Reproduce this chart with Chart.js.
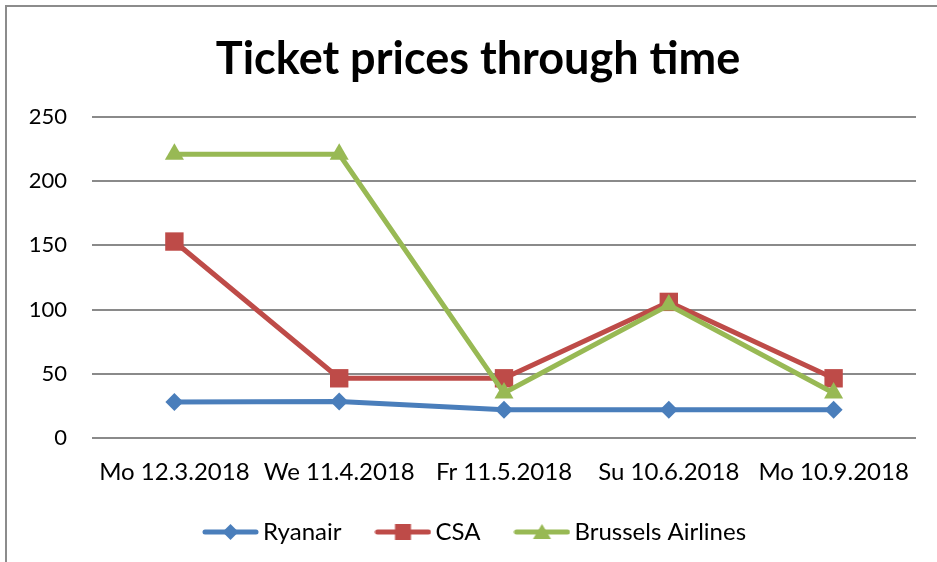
<!DOCTYPE html>
<html>
<head>
<meta charset="utf-8">
<script src="https://cdn.jsdelivr.net/npm/chart.js@4.4.0/dist/chart.umd.min.js"></script>
<style>
    html, body { margin: 0; padding: 0; background: #fff; overflow: hidden; }
    #frame {
        position: absolute; left: 5px; top: 5px;
        width: 1200px; height: 1200px;
        border: 2px solid #8c8c8c;
    }
    #wrap { position: absolute; left: 0; top: 0; width: 937px; height: 562px; }
</style>
</head>
<body>
<div id="frame"></div>
<div id="wrap"><canvas id="priceChart" width="937" height="562"></canvas></div>
<script>
// --- DATA ---
const dates = ['Mo 12.3.2018', 'We 11.4.2018', 'Fr 11.5.2018', 'Su 10.6.2018', 'Mo 10.9.2018'];
const ryanair = [28, 28.5, 22, 22, 22];
const csa = [153, 46.5, 46.5, 106, 46.5];
const brussels = [221, 221, 35, 103.5, 35];
const yTicks = [0, 50, 100, 150, 200, 250];

const FONT = 'Lato, "Open Sans", sans-serif';

// small line+marker swatch for the legend, like Excel draws it
function legendSwatch(color, style) {
    const c = document.createElement('canvas');
    c.width = 57; c.height = 22;
    const ctx = c.getContext('2d');
    const mx = 28.5;
    ctx.strokeStyle = color;
    ctx.fillStyle = color;
    ctx.lineWidth = 5;
    ctx.lineCap = 'round';
    ctx.beginPath();
    ctx.moveTo(3, 11);
    ctx.lineTo(54, 11);
    ctx.stroke();
    ctx.beginPath();
    if (style === 'rectRot') {
        ctx.moveTo(mx - 8, 11); ctx.lineTo(mx, 3); ctx.lineTo(mx + 8, 11); ctx.lineTo(mx, 19);
    } else if (style === 'rect') {
        ctx.rect(mx - 8, 3, 16, 16);
    } else {
        ctx.moveTo(mx - 9, 18); ctx.lineTo(mx, 3); ctx.lineTo(mx + 9, 18);
    }
    ctx.closePath();
    ctx.fill();
    return c;
}

// the scale boxes are kept narrow so title/legend centre like Excel does;
// widen them again after layout so the tick labels are not clipped
const unclipLabels = {
    id: 'unclipLabels',
    afterLayout(chart) {
        chart.scales.y.left = 0;
        chart.scales.x.bottom = chart.height;
    }
};

const series = [
    { label: 'Ryanair', data: ryanair, color: '#4A7EBB', style: 'rectRot', radius: 9, order: 3 },
    { label: 'CSA', data: csa, color: '#BE4B48', style: 'rect', radius: 13, order: 2 },
    { label: 'Brussels Airlines', data: brussels, color: '#98B954', style: 'triangle', radius: 11, order: 1 }
];

const ctx = document.getElementById('priceChart').getContext('2d');
const chart = new Chart(ctx, {
    type: 'line',
    data: {
        labels: dates,
        datasets: series.map(s => ({
            label: s.label,
            data: s.data,
            borderColor: s.color,
            backgroundColor: s.color,
            borderWidth: 5,
            tension: 0,
            pointStyle: s.style,
            pointRadius: s.radius,
            pointBorderWidth: 0,
            pointBackgroundColor: s.color,
            order: s.order
        }))
    },
    plugins: [unclipLabels],
    options: {
        responsive: false,
        animation: false,
        layout: { padding: { left: 40, right: 21, top: 0, bottom: 8 } },
        plugins: {
            title: {
                display: true,
                text: 'Ticket prices through time',
                color: '#000',
                font: { family: FONT, size: 45, weight: 'bold' },
                padding: { top: 32, bottom: 31 }
            },
            legend: {
                position: 'bottom',
                labels: {
                    color: '#000',
                    font: { family: FONT, size: 24 },
                    usePointStyle: true,
                    pointStyleWidth: 41,
                    padding: 41,
                    generateLabels: (ch) => series.map((s, i) => ({
                        text: s.label,
                        fillStyle: s.color,
                        strokeStyle: s.color,
                        lineWidth: 0,
                        pointStyle: legendSwatch(s.color, s.style),
                        hidden: false,
                        datasetIndex: i,
                        fontColor: '#000'
                    }))
                }
            },
            tooltip: { enabled: false }
        },
        scales: {
            x: {
                offset: true,
                grid: { display: false },
                border: { display: false },
                ticks: { color: '#000', font: { family: FONT, size: 24 }, padding: 12, maxRotation: 0, autoSkip: false },
                afterFit: (scale) => { scale.height = 41; }
            },
            y: {
                min: 0,
                max: 250,
                afterBuildTicks: (scale) => { scale.ticks = yTicks.map(v => ({ value: v })); },
                grid: { color: '#8a8a8a', lineWidth: 2, drawTicks: false },
                border: { display: false },
                ticks: { color: '#000', font: { family: FONT, size: 22 }, padding: 25 },
                afterFit: (scale) => { scale.width = 52; }
            }
        }
    }
});
</script>
</body>
</html>
